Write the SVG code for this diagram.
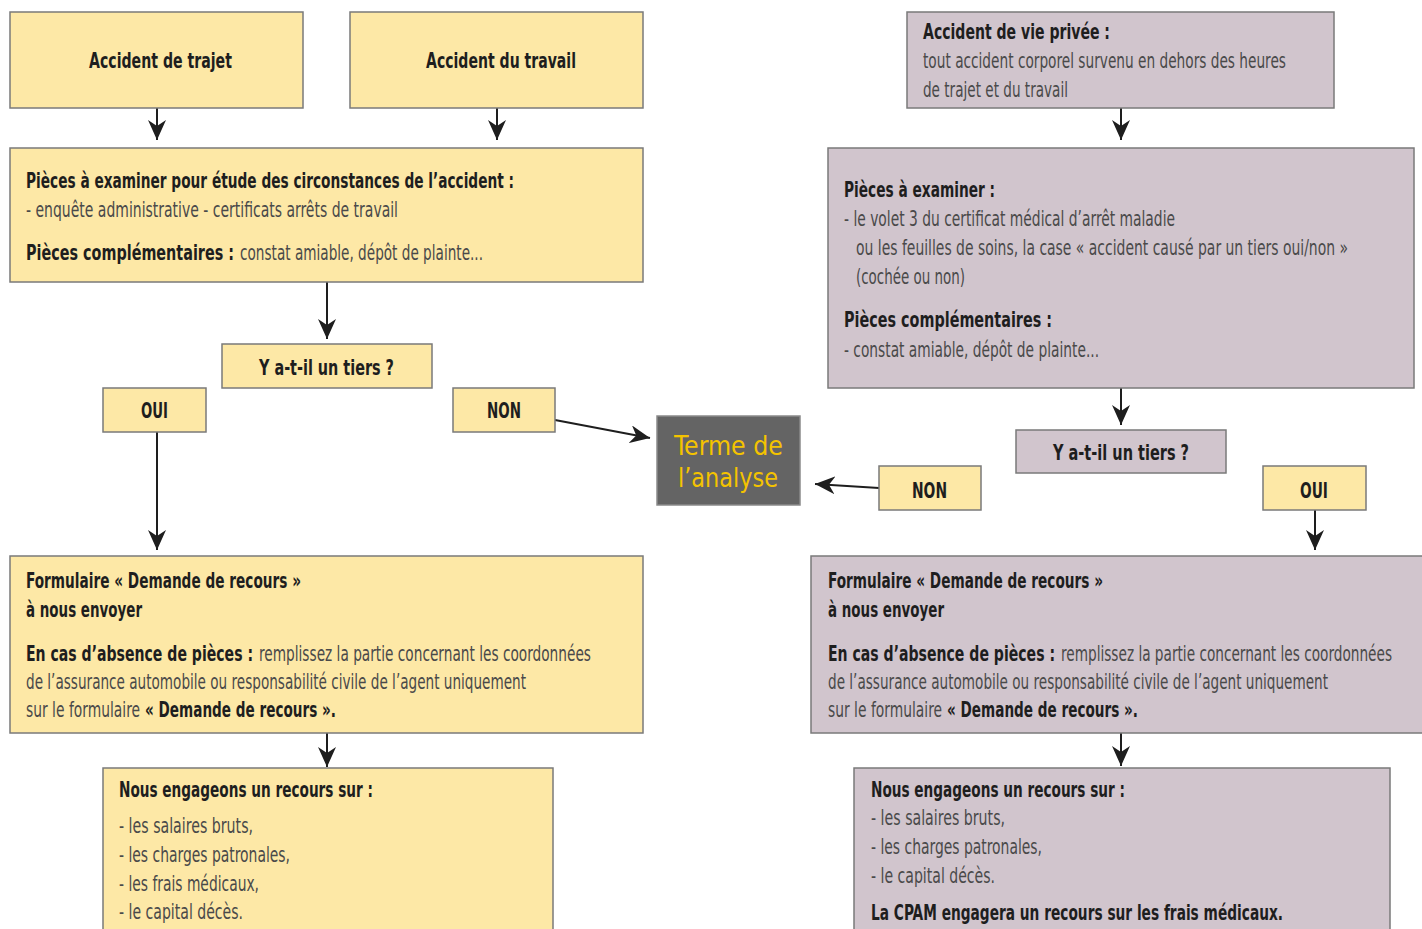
<svg xmlns="http://www.w3.org/2000/svg" width="1422" height="929" viewBox="0 0 1422 929">
<style>
.y{fill:#FDE8A6;stroke:#7a7a7a;stroke-width:1.5}
.p{fill:#D1C5CD;stroke:#7a7a7a;stroke-width:1.5}
.d{fill:#646464;stroke:#8a8a8a;stroke-width:1.5}
text{font-family:"DejaVu Sans Condensed","Liberation Sans Narrow","Liberation Sans",Arial,sans-serif}
.b{font-weight:bold;font-size:22px;fill:#1e1e1e}
.r{font-weight:normal;font-size:21px;fill:#4a4a4a}
.t{font-weight:normal;font-size:26px;fill:#F4C300}
.c{stroke:#1e1e1e;stroke-width:2;fill:none;marker-end:url(#ah)}
</style>
<defs>
<marker id="ah" markerUnits="userSpaceOnUse" markerWidth="22" markerHeight="18" refX="20" refY="9" orient="auto">
<path d="M0,0 L20,9 L0,18 L6,9 z" fill="#1e1e1e"/>
</marker>
</defs>
<rect width="1422" height="929" fill="#ffffff"/>

<g id="connectors">
<line class="c" x1="157" y1="108" x2="157" y2="140"/>
<line class="c" x1="497" y1="108" x2="497" y2="140"/>
<line class="c" x1="327" y1="282" x2="327" y2="339"/>
<line class="c" x1="157" y1="432" x2="157" y2="550"/>
<line class="c" x1="555" y1="420" x2="650" y2="438"/>
<line class="c" x1="879" y1="488" x2="815" y2="484"/>
<line class="c" x1="1121" y1="108" x2="1121" y2="140"/>
<line class="c" x1="1121" y1="388" x2="1121" y2="425"/>
<line class="c" x1="1315" y1="510" x2="1315" y2="550"/>
<line class="c" x1="327" y1="733" x2="327" y2="767"/>
<line class="c" x1="1121" y1="733" x2="1121" y2="766"/>
</g>

<g id="trajet">
<rect class="y" x="10" y="12" width="293" height="96"/>
<text class="b" transform="translate(89,68) scale(0.74,1)" textLength="193.2" lengthAdjust="spacingAndGlyphs">Accident de trajet</text>
</g>
<g id="travail">
<rect class="y" x="350" y="12" width="293" height="96"/>
<text class="b" transform="translate(426,68) scale(0.74,1)" textLength="202.7" lengthAdjust="spacingAndGlyphs">Accident du travail</text>
</g>
<g id="pieces-left">
<rect class="y" x="10" y="148" width="633" height="134"/>
<text class="b" transform="translate(26,188) scale(0.74,1)" textLength="659.5" lengthAdjust="spacingAndGlyphs">Pièces à examiner pour étude des circonstances de l’accident :</text>
<text class="r" transform="translate(26,217) scale(0.74,1)" textLength="502.7" lengthAdjust="spacingAndGlyphs">- enquête administrative  - certificats arrêts de travail</text>
<text class="b" transform="translate(26,260) scale(0.74,1)" textLength="281.1" lengthAdjust="spacingAndGlyphs">Pièces complémentaires :</text>
<text class="r" transform="translate(240,260) scale(0.74,1)" textLength="328.4" lengthAdjust="spacingAndGlyphs">constat amiable, dépôt de plainte...</text>
</g>
<g id="tiers-left">
<rect class="y" x="222" y="344" width="210" height="44"/>
<text class="b" transform="translate(259,375) scale(0.74,1)" textLength="182.4" lengthAdjust="spacingAndGlyphs">Y a-t-il un tiers ?</text>
</g>
<g id="oui-left">
<rect class="y" x="103" y="388" width="103" height="44"/>
<text class="b" transform="translate(141,418) scale(0.74,1)" textLength="36.5" lengthAdjust="spacingAndGlyphs">OUI</text>
</g>
<g id="non-left">
<rect class="y" x="453" y="388" width="102" height="44"/>
<text class="b" transform="translate(487,418) scale(0.74,1)" textLength="45.9" lengthAdjust="spacingAndGlyphs">NON</text>
</g>
<g id="terme">
<rect class="d" x="657" y="416" width="143" height="89"/>
<text class="t" transform="translate(674,455) scale(0.85,1)" textLength="128.2" lengthAdjust="spacingAndGlyphs">Terme de</text>
<text class="t" transform="translate(678,487) scale(0.85,1)" textLength="117.6" lengthAdjust="spacingAndGlyphs">l’analyse</text>
</g>
<g id="formulaire-left">
<rect class="y" x="10" y="556" width="633" height="177"/>
<text class="b" transform="translate(26,588) scale(0.74,1)" textLength="371.6" lengthAdjust="spacingAndGlyphs">Formulaire « Demande de recours »</text>
<text class="b" transform="translate(26,617) scale(0.74,1)" textLength="156.8" lengthAdjust="spacingAndGlyphs">à nous envoyer</text>
<text class="b" transform="translate(26,661) scale(0.74,1)" textLength="306.8" lengthAdjust="spacingAndGlyphs">En cas d’absence de pièces :</text>
<text class="r" transform="translate(259,661) scale(0.74,1)" textLength="448.6" lengthAdjust="spacingAndGlyphs">remplissez la partie concernant les coordonnées</text>
<text class="r" transform="translate(26,689) scale(0.74,1)" textLength="675.7" lengthAdjust="spacingAndGlyphs">de l’assurance automobile ou responsabilité civile de l’agent uniquement</text>
<text class="r" transform="translate(26,717) scale(0.74,1)" textLength="154.1" lengthAdjust="spacingAndGlyphs">sur le formulaire</text>
<text class="b" transform="translate(145,717) scale(0.74,1)" textLength="258.1" lengthAdjust="spacingAndGlyphs">« Demande de recours ».</text>
</g>
<g id="recours-left">
<rect class="y" x="103" y="768" width="450" height="175"/>
<text class="b" transform="translate(119,797) scale(0.74,1)" textLength="343.2" lengthAdjust="spacingAndGlyphs">Nous engageons un recours sur :</text>
<text class="r" transform="translate(119,833) scale(0.74,1)" textLength="181.1" lengthAdjust="spacingAndGlyphs">- les salaires bruts,</text>
<text class="r" transform="translate(119,862) scale(0.74,1)" textLength="231.1" lengthAdjust="spacingAndGlyphs">- les charges patronales,</text>
<text class="r" transform="translate(119,891) scale(0.74,1)" textLength="189.2" lengthAdjust="spacingAndGlyphs">- les frais médicaux,</text>
<text class="r" transform="translate(119,919) scale(0.74,1)" textLength="167.6" lengthAdjust="spacingAndGlyphs">- le capital décès.</text>
</g>

<g id="vie-privee">
<rect class="p" x="907" y="12" width="427" height="96"/>
<text class="b" transform="translate(923,39) scale(0.74,1)" textLength="252.7" lengthAdjust="spacingAndGlyphs">Accident de vie privée :</text>
<text class="r" transform="translate(923,68) scale(0.74,1)" textLength="490.5" lengthAdjust="spacingAndGlyphs">tout accident corporel survenu en dehors des heures</text>
<text class="r" transform="translate(923,97) scale(0.74,1)" textLength="195.9" lengthAdjust="spacingAndGlyphs">de trajet et du travail</text>
</g>
<g id="pieces-right">
<rect class="p" x="828" y="148" width="586" height="240"/>
<text class="b" transform="translate(844,197) scale(0.74,1)" textLength="204.1" lengthAdjust="spacingAndGlyphs">Pièces à examiner :</text>
<text class="r" transform="translate(844,226) scale(0.74,1)" textLength="447.3" lengthAdjust="spacingAndGlyphs">- le volet 3 du certificat médical d’arrêt maladie</text>
<text class="r" transform="translate(856,255) scale(0.74,1)" textLength="664.9" lengthAdjust="spacingAndGlyphs">ou les feuilles de soins, la case « accident causé par un tiers oui/non »</text>
<text class="r" transform="translate(856,284) scale(0.74,1)" textLength="147.3" lengthAdjust="spacingAndGlyphs">(cochée ou non)</text>
<text class="b" transform="translate(844,327) scale(0.74,1)" textLength="281.1" lengthAdjust="spacingAndGlyphs">Pièces complémentaires :</text>
<text class="r" transform="translate(844,357) scale(0.74,1)" textLength="344.6" lengthAdjust="spacingAndGlyphs">- constat amiable, dépôt de plainte...</text>
</g>
<g id="tiers-right">
<rect class="p" x="1016" y="430" width="210" height="43"/>
<text class="b" transform="translate(1053,460) scale(0.74,1)" textLength="183.8" lengthAdjust="spacingAndGlyphs">Y a-t-il un tiers ?</text>
</g>
<g id="non-right">
<rect class="y" x="879" y="466" width="102" height="44"/>
<text class="b" transform="translate(912,498) scale(0.74,1)" textLength="47.3" lengthAdjust="spacingAndGlyphs">NON</text>
</g>
<g id="oui-right">
<rect class="y" x="1263" y="466" width="103" height="44"/>
<text class="b" transform="translate(1300,498) scale(0.74,1)" textLength="37.8" lengthAdjust="spacingAndGlyphs">OUI</text>
</g>
<g id="formulaire-right">
<rect class="p" x="811" y="556" width="620" height="177"/>
<text class="b" transform="translate(828,588) scale(0.74,1)" textLength="371.6" lengthAdjust="spacingAndGlyphs">Formulaire « Demande de recours »</text>
<text class="b" transform="translate(828,617) scale(0.74,1)" textLength="156.8" lengthAdjust="spacingAndGlyphs">à nous envoyer</text>
<text class="b" transform="translate(828,661) scale(0.74,1)" textLength="306.8" lengthAdjust="spacingAndGlyphs">En cas d’absence de pièces :</text>
<text class="r" transform="translate(1061,661) scale(0.74,1)" textLength="447.3" lengthAdjust="spacingAndGlyphs">remplissez la partie concernant les coordonnées</text>
<text class="r" transform="translate(828,689) scale(0.74,1)" textLength="675.7" lengthAdjust="spacingAndGlyphs">de l’assurance automobile ou responsabilité civile de l’agent uniquement</text>
<text class="r" transform="translate(828,717) scale(0.74,1)" textLength="154.1" lengthAdjust="spacingAndGlyphs">sur le formulaire</text>
<text class="b" transform="translate(947,717) scale(0.74,1)" textLength="258.1" lengthAdjust="spacingAndGlyphs">« Demande de recours ».</text>
</g>
<g id="recours-right">
<rect class="p" x="854" y="768" width="536" height="175"/>
<text class="b" transform="translate(871,797) scale(0.74,1)" textLength="343.2" lengthAdjust="spacingAndGlyphs">Nous engageons un recours sur :</text>
<text class="r" transform="translate(871,825) scale(0.74,1)" textLength="181.1" lengthAdjust="spacingAndGlyphs">- les salaires bruts,</text>
<text class="r" transform="translate(871,854) scale(0.74,1)" textLength="231.1" lengthAdjust="spacingAndGlyphs">- les charges patronales,</text>
<text class="r" transform="translate(871,883) scale(0.74,1)" textLength="167.6" lengthAdjust="spacingAndGlyphs">- le capital décès.</text>
<text class="b" transform="translate(871,920) scale(0.74,1)" textLength="556.8" lengthAdjust="spacingAndGlyphs">La CPAM engagera un recours sur les frais médicaux.</text>
</g>
</svg>
